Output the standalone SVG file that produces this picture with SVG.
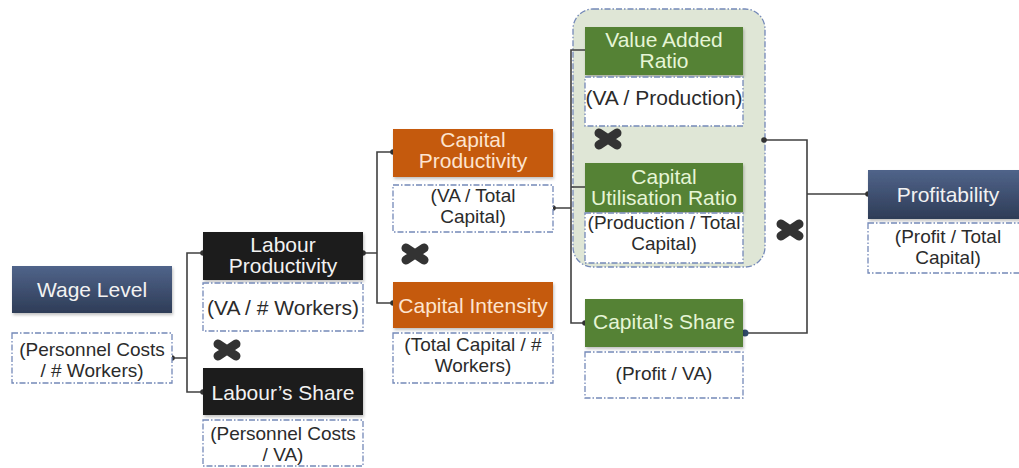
<svg xmlns="http://www.w3.org/2000/svg" width="1019" height="468" viewBox="0 0 1019 468">
<defs>
<linearGradient id="slate" x1="0" y1="0" x2="0" y2="1">
<stop offset="0" stop-color="#50648a"/>
<stop offset="1" stop-color="#2e3c57"/>
</linearGradient>
<filter id="sh" x="-10%" y="-10%" width="120%" height="130%">
<feDropShadow dx="1" dy="2" stdDeviation="1.5" flood-color="#000" flood-opacity="0.25"/>
</filter>
<g id="xmark">
<path d="M-9,-6 L9,6 M-9,6 L9,-6" stroke="#333" stroke-width="9" stroke-linecap="round"/>
</g>
</defs>
<style>
text{font-family:"Liberation Sans",Arial,sans-serif;text-anchor:middle}
.t{font-size:21px}
.d{font-size:19px;fill:#2b2b2b}
.big{font-size:21px}
.slate{fill:url(#slate)}
.black{fill:#1d1d1d}
.orange{fill:#c55a11}
.green{fill:#548235}
.box{filter:url(#sh)}
.dash{fill:#fff;stroke:#7489b8;stroke-width:1.3;stroke-dasharray:6 2 1.5 2}
.tw{fill:#f2f2f2}
.to{fill:#fde4cf}
.tg{fill:#e6f5d6}
.ln{fill:none;stroke:#404040;stroke-width:1.6}
.dot{fill:#333}
</style>

<rect x="573" y="9" width="192" height="258" rx="20" fill="#dfe6d6" stroke="#7489b8" stroke-width="1.3" stroke-dasharray="6 2 1.5 2"/>

<g id="connectors">
<path class="ln" d="M172 358 H187 M203 253 H187 V392 H203"/>
<path class="ln" d="M363 253 H377 M393 152 H377 V303 H393"/>
<path class="ln" d="M553 208 H571 M585 50 H571 V323 H585 M571 187 H585"/>
<path class="ln" d="M764 140 H807 V333 H745 M807 194 H868"/>
<circle class="dot" cx="172" cy="358" r="2.8"/>
<circle class="dot" cx="203" cy="253" r="2.8"/>
<circle class="dot" cx="203" cy="392" r="2.8"/>
<circle class="dot" cx="363" cy="253" r="2.8"/>
<circle class="dot" cx="393" cy="152" r="2.8"/>
<circle class="dot" cx="393" cy="303" r="2.8"/>
<circle class="dot" cx="553" cy="208" r="2.8"/>
<circle class="dot" cx="585" cy="323" r="2.8"/>
<circle class="dot" cx="764" cy="140" r="2.8"/>
<circle class="dot" cx="868" cy="194" r="2.8"/>
<circle cx="745" cy="333" r="3.5" fill="#2f4a6a"/>
</g>

<g id="wage-level">
<rect class="box slate" x="12" y="266" width="160" height="47"/>
<text class="t tw" x="92" y="297">Wage Level</text>
</g>
<g id="wage-level-formula">
<rect class="dash" x="12" y="333" width="160" height="50"/>
<text class="d" x="92" y="356">(Personnel Costs</text>
<text class="d" x="92" y="377">/ # Workers)</text>
</g>

<g id="labour-productivity">
<rect class="box black" x="203" y="232" width="160" height="48"/>
<text class="t tw" x="283" y="252">Labour</text>
<text class="t tw" x="283" y="273">Productivity</text>
</g>
<g id="labour-productivity-formula">
<rect class="dash" x="203" y="283" width="160" height="48"/>
<text class="d big" x="283" y="315">(VA / # Workers)</text>
</g>
<use href="#xmark" x="227" y="350"/>
<g id="labours-share">
<rect class="box black" x="203" y="368" width="160" height="47"/>
<text class="t tw" x="283" y="400">Labour’s Share</text>
</g>
<g id="labours-share-formula">
<rect class="dash" x="203" y="420" width="160" height="46"/>
<text class="d" x="283" y="440">(Personnel Costs</text>
<text class="d" x="283" y="461">/ VA)</text>
</g>

<g id="capital-productivity">
<rect class="box orange" x="393" y="129" width="160" height="48"/>
<text class="t to" x="473" y="147">Capital</text>
<text class="t to" x="473" y="168">Productivity</text>
</g>
<g id="capital-productivity-formula">
<rect class="dash" x="393" y="185" width="160" height="47"/>
<text class="d" x="473" y="202">(VA / Total</text>
<text class="d" x="473" y="223">Capital)</text>
</g>
<use href="#xmark" x="415" y="254"/>
<g id="capital-intensity">
<rect class="box orange" x="393" y="282" width="160" height="46"/>
<text class="t to" x="473" y="313">Capital Intensity</text>
</g>
<g id="capital-intensity-formula">
<rect class="dash" x="393" y="333" width="160" height="50"/>
<text class="d" x="473" y="351">(Total Capital / #</text>
<text class="d" x="473" y="372">Workers)</text>
</g>

<g id="value-added-ratio">
<rect class="box green" x="585" y="27" width="158" height="48"/>
<text class="t tg" x="664" y="47">Value Added</text>
<text class="t tg" x="664" y="68">Ratio</text>
</g>
<g id="value-added-ratio-formula">
<rect class="dash" x="585" y="77" width="158" height="49"/>
<text class="d big" x="664" y="105">(VA / Production)</text>
</g>
<use href="#xmark" x="608" y="139"/>
<g id="capital-utilisation-ratio">
<rect class="box green" x="585" y="163" width="158" height="49"/>
<text class="t tg" x="664" y="184">Capital</text>
<text class="t tg" x="664" y="205">Utilisation Ratio</text>
</g>
<g id="capital-utilisation-ratio-formula">
<rect class="dash" x="585" y="213" width="158" height="50"/>
<text class="d" x="664" y="229">(Production / Total</text>
<text class="d" x="664" y="250">Capital)</text>
</g>

<g id="capitals-share">
<rect class="box green" x="585" y="299" width="158" height="48"/>
<text class="t tg" x="664" y="329">Capital’s Share</text>
</g>
<g id="capitals-share-formula">
<rect class="dash" x="585" y="352" width="158" height="46"/>
<text class="d" x="664" y="380">(Profit / VA)</text>
</g>
<use href="#xmark" x="790" y="230"/>

<g id="profitability">
<rect class="box slate" x="868" y="170" width="160" height="49"/>
<text class="t tw" x="948" y="202">Profitability</text>
</g>
<g id="profitability-formula">
<rect class="dash" x="868" y="223" width="160" height="50"/>
<text class="d" x="948" y="243">(Profit / Total</text>
<text class="d" x="948" y="264">Capital)</text>
</g>
</svg>
